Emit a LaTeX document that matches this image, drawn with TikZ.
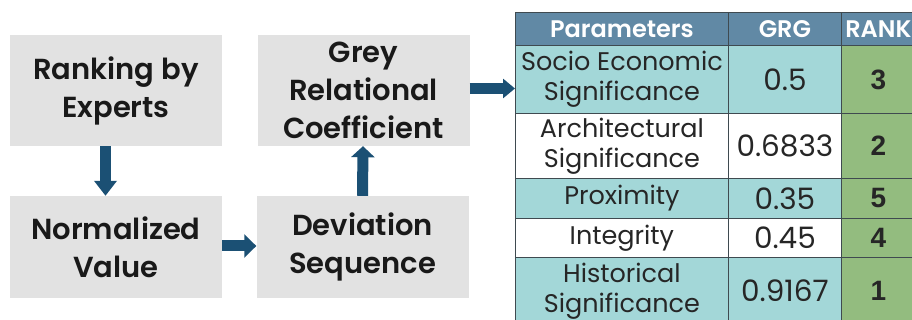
\documentclass[tikz,border=0pt]{standalone}
\usepackage{fontspec}
\setmainfont{Poppins}[BoldFont={Poppins SemiBold}]
\newfontfamily\numfont{Liberation Sans}
\usetikzlibrary{arrows.meta}
\definecolor{arrowblue}{HTML}{1B5074}
\definecolor{boxgrey}{HTML}{E2E2E2}
\definecolor{hdr}{HTML}{6189A5}
\definecolor{tealc}{HTML}{A3D7D8}
\definecolor{greenc}{HTML}{93BC7F}
\definecolor{gridc}{HTML}{3F4A50}
\tikzset{
  stepbox/.style={fill=boxgrey, minimum width=212pt, minimum height=111pt, inner sep=0pt,
    align=center, font=\fontsize{29}{38}\selectfont\bfseries, text=black!90},
  flowarrow/.style={draw=arrowblue, line width=11pt},
  cell/.style={draw=gridc, line width=0.8pt, anchor=north west, inner sep=0pt, align=center,
    font=\fontsize{25.5}{30}\selectfont, text=black!85},
  hcell/.style={cell, fill=hdr, text=white, minimum height=33pt, font=\fontsize{24}{26}\selectfont\bfseries},
  gcell/.style={cell, font=\fontsize{29.5}{30}\selectfont},
  rcell/.style={cell, fill=greenc, minimum width=74pt, font=\fontsize{28}{30}\selectfont\numfont\bfseries},
  pw/.style={minimum width=213pt},
  gw/.style={minimum width=113pt}
}
\begin{document}
\begin{tikzpicture}[x=1pt,y=-1pt]
\useasboundingbox (0,0) rectangle (912,320);
\clip (0,0) rectangle (912,320);
\fill[white] (0,0) rectangle (912,320);
% flow boxes
\node[stepbox] (rank) at (116,90.5) {Ranking by\\Experts};
\node[stepbox] (grey) at (363.5,90.5) {Grey\\Relational\\Coefficient};
\node[stepbox, minimum height=102pt] (norm) at (116,247) {Normalized\\Value};
\node[stepbox, minimum height=102pt] (dev) at (362.5,247) {Deviation\\Sequence};
% table
\node[hcell, pw] (h1) at (515,12) {Parameters};
\node[hcell, gw] (h2) at (728,12) {GRG};
\node[hcell, minimum width=74pt] (h3) at (841,12) {RANK};
\node[cell, pw, fill=tealc, minimum height=68pt] (p1) at (515,45) {Socio Economic\\Significance};
\node[gcell, gw, fill=tealc, minimum height=68pt] (g1) at (728,45) {0.5};
\node[rcell, minimum height=68pt] (r1) at (841,45) {3};
\node[cell, pw, fill=white, minimum height=65pt] (p2) at (515,113) {Architectural\\Significance};
\node[gcell, gw, fill=white, minimum height=65pt] (g2) at (728,113) {0.6833};
\node[rcell, minimum height=65pt] (r2) at (841,113) {2};
\node[cell, pw, fill=tealc, minimum height=40pt] (p3) at (515,178) {Proximity};
\node[gcell, gw, fill=tealc, minimum height=40pt] (g3) at (728,178) {0.35};
\node[rcell, minimum height=40pt] (r3) at (841,178) {5};
\node[cell, pw, fill=white, minimum height=39pt] (p4) at (515,218) {Integrity};
\node[gcell, gw, fill=white, minimum height=39pt] (g4) at (728,218) {0.45};
\node[rcell, minimum height=39pt] (r4) at (841,218) {4};
\node[cell, pw, fill=tealc, minimum height=67pt] (p5) at (515,257) {Historical\\Significance};
\node[gcell, gw, fill=tealc, minimum height=67pt] (g5) at (728,257) {0.9167};
\node[rcell, minimum height=67pt] (r5) at (841,257) {1};
% connectors
\draw[flowarrow, -{Triangle[length=15pt,width=22pt]}] ([xshift=-10.5pt]rank.south) -- ([xshift=-10.5pt]norm.north);
\draw[flowarrow, -{Triangle[length=12pt,width=23pt]}] ([yshift=1pt]norm.east) -- ([yshift=1pt]dev.west);
\draw[flowarrow, -{Triangle[length=11pt,width=23pt]}] (dev.north) -- ([xshift=-0.5pt]grey.south);
\coordinate (tabin) at (515,88.5);
\draw[flowarrow, -{Triangle[length=12pt,width=19pt]}] ([yshift=2pt]grey.east) -- (tabin);
\end{tikzpicture}
\end{document}
